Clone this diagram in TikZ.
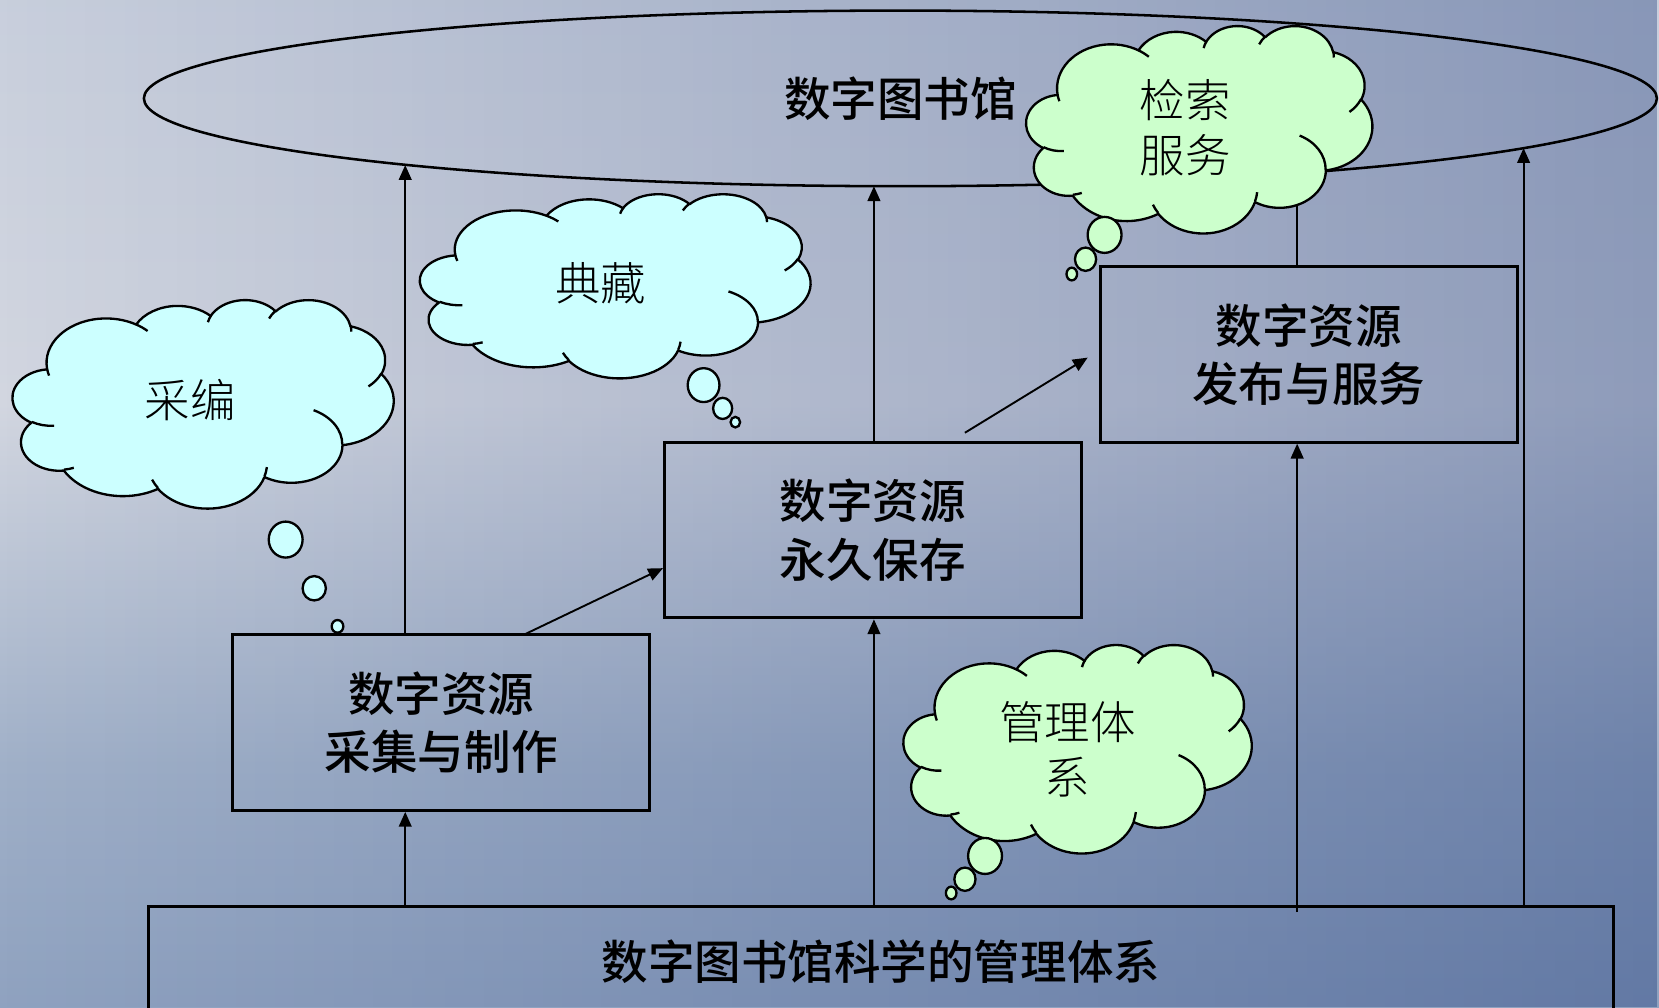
\documentclass[tikz,border=0pt]{standalone}
\usepackage{fontspec}
\newfontfamily\cjkmd{Noto Sans CJK SC Medium}
\newfontfamily\cjklt{Noto Sans CJK SC Light}
\usetikzlibrary{shapes.geometric,arrows.meta,fadings}
\definecolor{cyanfill}{HTML}{CCFFFF}
\definecolor{greenfill}{HTML}{CCFFCC}
\definecolor{bgA}{HTML}{6C84AE}
\definecolor{bgB}{HTML}{A0B0C8}
\definecolor{bgC}{HTML}{D2D6E0}
\definecolor{bgD}{HTML}{BCC6D8}
\definecolor{bgR}{HTML}{0C2A70}
\pgfdeclareverticalshading{bgv}{100bp}{color(0bp)=(bgA); color(37bp)=(bgB); color(55bp)=(bgC); color(100bp)=(bgD)}
% PowerPoint-style arc: wR, hR, visual start angle, sweep
\newcommand\ooarc[4]{arc[x radius=#1, y radius=#2, start angle={atan2((#1)*sin(#3),(#2)*cos(#3))}, delta angle={mod(atan2((#1)*sin((#3)+(#4)),(#2)*cos((#3)+(#4)))-atan2((#1)*sin(#3),(#2)*cos(#3))+720,360)}]}
\tikzset{
 cloudline/.style={line width=1.1pt, line join=round},
 pics/pptcloud/.style={code={
  \path[draw, fill=#1, cloudline] (39.00,143.70)
    \ooarc{67.53}{91.90}{-190.488}{123.781}
    \ooarc{53.33}{72.67}{-144.102}{89.945}
    \ooarc{43.65}{59.45}{-145.808}{99.723}
    \ooarc{48.57}{65.95}{-130.986}{117.242}
    \ooarc{53.33}{72.73}{-78.709}{109.027}
    \ooarc{67.75}{92.20}{-46.267}{130.269}
    \ooarc{57.85}{78.67}{0.625}{114.033}
    \ooarc{67.52}{92.15}{22.452}{115.173}
    \ooarc{77.20}{105.43}{66.243}{75.711}
    \ooarc{43.60}{59.18}{-274.942}{146.736}
    \ooarc{43.45}{59.45}{-246.829}{152.519}
    -- cycle;
  \draw[cloudline]
    (46.93,261.77) \ooarc{43.45}{59.45}{86.742}{26.430}
    (69.28,348.99) \ooarc{43.60}{59.18}{73.610}{11.447}
    (164.78,390.90) \ooarc{67.52}{92.15}{137.624}{14.081}
    (288.27,347.51) \ooarc{67.52}{92.15}{6.453}{15.998}
    (341.29,229.54) \ooarc{57.85}{78.67}{-70.292}{70.917}
    (417.98,153.54) \ooarc{53.33}{72.73}{30.318}{27.752}
    (383.24,54.26) \ooarc{48.57}{65.95}{-13.744}{14.859}
    (290.78,39.52) \ooarc{48.57}{65.95}{-149.181}{18.195}
    (221.41,47.20) \ooarc{43.65}{59.45}{-163.494}{17.686}
    (140.00,51.92) \ooarc{67.53}{91.90}{-66.707}{12.319}
    (41.27,157.89) \ooarc{67.53}{91.90}{157.654}{11.858};
 }}
}
\begin{document}
\begin{tikzpicture}[x=0.5pt,y=-0.5pt,
 boxtxt/.style={font=\cjkmd\fontsize{22}{27.5}\selectfont, align=center},
 cldtxt/.style={font=\cjklt\fontsize{21.5}{26}\selectfont, align=center},
 boxnode/.style={draw, line width=1.35pt, minimum width=197pt, minimum height=83pt, inner sep=0pt, boxtxt},
 conn/.style={line width=0.9pt, -{Triangle[length=7pt,width=6pt]}},
 bubble/.style={ellipse, draw, line width=1.1pt, inner sep=0pt}]
\useasboundingbox (0,0) rectangle (1568,952);
\shade[shading=bgv] (0,0) rectangle (1568,952);
\fill[bgR, path fading=west, fill opacity=0.34] (0,0) rectangle (1568,952);

% ellipse
\node[ellipse, draw, line width=1.2pt, minimum width=715pt, minimum height=83pt, inner sep=0pt, boxtxt] (lib) at (851,93) {数字图书馆};

% boxes
\node[boxnode] (A) at (417,683) {数字资源\\采集与制作};
\node[boxnode] (B) at (825,501) {数字资源\\永久保存};
\node[boxnode] (C) at (1237,335) {数字资源\\发布与服务};
\node[draw, line width=1.35pt, minimum width=692.5pt, minimum height=52pt, inner sep=0pt, boxtxt] (base) at (832.5,909) {数字图书馆科学的管理体系};

% coordinates
\coordinate (e1) at (383,156);
\coordinate (e2) at (826,176);
\coordinate (e3) at (1226,164);
\coordinate (e4) at (1440,140);
\coordinate (xa) at (383,0);
\coordinate (xb) at (826,0);
\coordinate (xc) at (1226,0);
\coordinate (xd) at (1440,0);
\coordinate (s7) at (1226,862);
\coordinate (d1s) at (497,599);
\coordinate (d1e) at (0,537);
\coordinate (d2s) at (912,409);
\coordinate (d2e) at (1028,338);

% connectors
\draw[conn] (xa |- base.north) -- (xa |- A.south);
\draw[conn] (xa |- A.north) -- (e1);
\draw[conn] (xb |- base.north) -- (xb |- B.south);
\draw[conn] (xb |- B.north) -- (e2);
\draw[conn] (s7) -- (xc |- C.south);
\draw[conn] (xc |- C.north) -- (e3);
\draw[conn] (xd |- base.north) -- (e4);
\draw[conn] (d1s) -- (B.west |- d1e);
\draw[conn] (d2s) -- (d2e);

% clouds
\begin{scope}[shift={(12,283)}, x=0.41667pt, y=-0.22801pt]
  \pic {pptcloud=cyanfill};
\end{scope}
\node[cldtxt] (t1) at (180,378) {采编};
\node[bubble, fill=cyanfill, minimum width=16pt, minimum height=17pt] (b11) at (270,510) {};
\node[bubble, fill=cyanfill, minimum width=11pt, minimum height=11.5pt] (b12) at (297,556) {};
\node[bubble, fill=cyanfill, minimum width=5.5pt, minimum height=6pt] (b13) at (319,592) {};

\begin{scope}[shift={(397,183)}, x=0.42708pt, y=-0.20139pt]
  \pic {pptcloud=cyanfill};
\end{scope}
\node[cldtxt] (t2) at (568,268) {典藏};
\node[bubble, fill=cyanfill, minimum width=15pt, minimum height=16pt] (b21) at (665,364) {};
\node[bubble, fill=cyanfill, minimum width=9pt, minimum height=10pt] (b22) at (683,386) {};
\node[bubble, fill=cyanfill, minimum width=4.5pt, minimum height=5pt] (b23) at (695,399) {};

\begin{scope}[shift={(970,24)}, x=0.37847pt, y=-0.22685pt]
  \pic {pptcloud=greenfill};
\end{scope}
\node[cldtxt] (t3) at (1120,121) {检索\\服务};
\node[bubble, fill=greenfill, minimum width=16pt, minimum height=17pt] (b31) at (1044,222) {};
\node[bubble, fill=greenfill, minimum width=10pt, minimum height=11pt] (b32) at (1026,245) {};
\node[bubble, fill=greenfill, minimum width=5pt, minimum height=6pt] (b33) at (1013,259) {};

\begin{scope}[shift={(854,609)}, x=0.38079pt, y=-0.22801pt]
  \pic {pptcloud=greenfill};
\end{scope}
\node[cldtxt] (t4) at (1009,708) {管理体\\系};
\node[bubble, fill=greenfill, minimum width=16pt, minimum height=17pt] (b41) at (931,809) {};
\node[bubble, fill=greenfill, minimum width=10pt, minimum height=11pt] (b42) at (912,831) {};
\node[bubble, fill=greenfill, minimum width=5pt, minimum height=6pt] (b43) at (899,844) {};
\end{tikzpicture}
\end{document}
